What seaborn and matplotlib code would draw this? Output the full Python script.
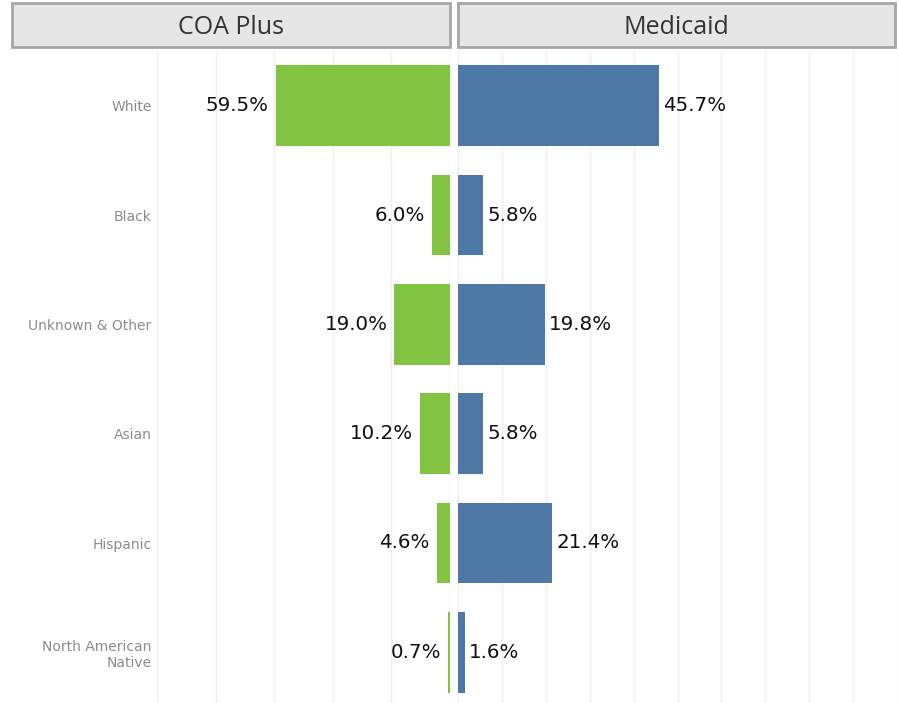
import matplotlib
matplotlib.use("Agg")
from matplotlib import pyplot as plt
from matplotlib.patches import Rectangle
import seaborn as sns

# data
groups = ["White", "Black", "Unknown & Other", "Asian", "Hispanic", "North American\nNative"]
coa_plus = [59.5, 6.0, 19.0, 10.2, 4.6, 0.7]
medicaid = [45.7, 5.8, 19.8, 5.8, 21.4, 1.6]
panels = ["COA Plus", "Medicaid"]

green = "#82c341"
blue = "#4e79a7"

sns.set_style("white")
plt.rcParams['font.family'] = ['DejaVu Sans']

W, H = 899, 703
fig = plt.figure(figsize=(W / 100, H / 100), dpi=100)

def fx(px):
    return px / W

def fy(py):
    return 1 - py / H

# axes in pixel layout (bottom row runs a little past the figure edge)
top, bottom = 51, 707
ax1 = fig.add_axes([fx(157), fy(bottom), fx(450 - 157), (bottom - top) / H])
ax2 = fig.add_axes([fx(458), fy(bottom), fx(897 - 458), (bottom - top) / H])

sns.barplot(x=coa_plus, y=groups, ax=ax1, color=green, width=0.74, saturation=1,
            orient="h", linewidth=0, edgecolor="none")
sns.barplot(x=medicaid, y=groups, ax=ax2, color=blue, width=0.74, saturation=1,
            orient="h", linewidth=0, edgecolor="none")

ax1.set_xlim(100, 0)
ax2.set_xlim(0, 100)
ax1.set_xticks(range(0, 101, 20))
ax2.set_xticks(range(0, 101, 10))

for ax in (ax1, ax2):
    ax.set_ylim(len(groups) - 0.5, -0.5)
    ax.grid(axis="x", color="#efefef", linewidth=1)
    ax.set_axisbelow(True)
    ax.tick_params(axis="x", length=0, labelbottom=False)
    ax.set_xlabel("")
    ax.set_ylabel("")
    for s in ax.spines.values():
        s.set_visible(False)

ax1.tick_params(axis="y", length=0, labelsize=10, labelcolor="#8c8c8c", pad=4)
for t in ax1.get_yticklabels():
    t.set_horizontalalignment("right")
    t.set_multialignment("right")
ax2.tick_params(axis="y", length=0, labelleft=False)

for i, v in enumerate(coa_plus):
    ax1.annotate(f"{v:.1f}%", (v, i), xytext=(-5, 0), textcoords="offset points",
                 ha="right", va="center", fontsize=14.3, color="#111111")
for i, v in enumerate(medicaid):
    ax2.annotate(f"{v:.1f}%", (v, i), xytext=(3, 0), textcoords="offset points",
                 ha="left", va="center", fontsize=14.3, color="#111111")

# header boxes
for (x0, x1), name in zip([(12, 450), (458, 895)], panels):
    fig.patches.append(Rectangle((fx(x0), fy(47)), fx(x1 - x0), 44 / H,
                                 transform=fig.transFigure, facecolor="#e6e6e6",
                                 edgecolor="#a6a6a6", linewidth=2))
    fig.text(fx((x0 + x1) / 2), fy(27), name, ha="center", va="center",
             fontsize=18, color="#333333", family=["Open Sans", "DejaVu Sans"])

fig.savefig("out.png", dpi=100)
